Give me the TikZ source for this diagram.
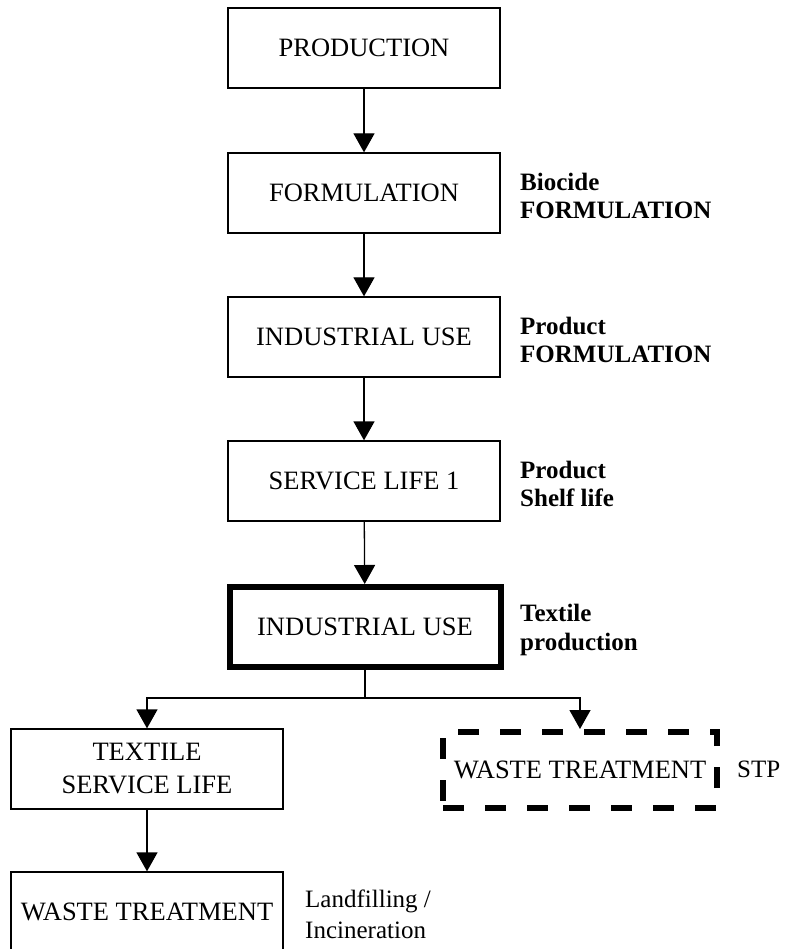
\documentclass[tikz,border=0pt]{standalone}
\usepackage{fontspec}
\setmainfont{Liberation Serif}
\usepackage{xcolor}
\usepackage{tikz}
\usetikzlibrary{arrows.meta}
\definecolor{ink}{HTML}{000000}
\definecolor{paper}{HTML}{FFFFFF}
\tikzset{
  box/.style={draw=ink, line width=1.3pt, minimum width=272pt, minimum height=80pt, inner sep=0pt, align=center, font=\fontsize{26.5pt}{33pt}\selectfont},
  boxthick/.style={box, line width=6pt, minimum width=271pt},
  boxdash/.style={box, line width=6pt, minimum width=274pt, minimum height=76pt, dash pattern=on 21pt off 21pt},
  arr/.style={draw=ink, line width=1.3pt, -{Triangle[length=19pt,width=21pt]}},
  link/.style={draw=ink, line width=1.3pt},
  lab/.style={anchor=west, align=left, inner sep=0pt, font=\fontsize{25pt}{28.5pt}\selectfont\bfseries},
  labr/.style={anchor=west, align=left, inner sep=0pt, font=\fontsize{25pt}{31pt}\selectfont},
}
\begin{document}
\begin{tikzpicture}[x=1pt,y=-1pt]
  \fill[paper] (0,0) rectangle (785,949);
  \useasboundingbox (0,0) rectangle (785,949);

  \node[box] (prod) at (364,48) {PRODUCTION};
  \node[box] (form) at (364,193) {FORMULATION};
  \node[box] (ind1) at (364,337) {INDUSTRIAL USE};
  \node[box] (serv) at (364,481) {SERVICE LIFE 1};
  \node[boxthick] (ind2) at (365,627) {INDUSTRIAL USE};

  \node[box] (tex) at (147,769) {TEXTILE\\SERVICE LIFE};
  \node[boxdash] (stp) at (580,770) {WASTE TREATMENT};
  \node[box] (land) at (147,912) {WASTE TREATMENT};

  \draw[arr] (prod) -- (form);
  \draw[arr] (form) -- (ind1);
  \draw[arr] (ind1) -- (serv);
  \draw[arr] (serv) -- (ind2);

  % branch below textile production
  \coordinate (split) at (365,698);
  \draw[link] (ind2) -- (split);
  \draw[arr] (split) -| (tex);
  \draw[arr] (split) -| (stp);
  \draw[arr] (tex) -- (land);

  \node[lab] (formlab) at (520,196) {Biocide\\FORMULATION};
  \node[lab] (ind1lab) at (520,340) {Product\\FORMULATION};
  \node[lab] (servlab) at (520,484) {Product\\Shelf life};
  \node[lab] (ind2lab) at (520,630) {Textile\\production};
  \node[labr] (stplab) at (737,769) {STP};
  \node[labr] (landlab) at (305,914) {Landfilling /\\Incineration};
\end{tikzpicture}
\end{document}
